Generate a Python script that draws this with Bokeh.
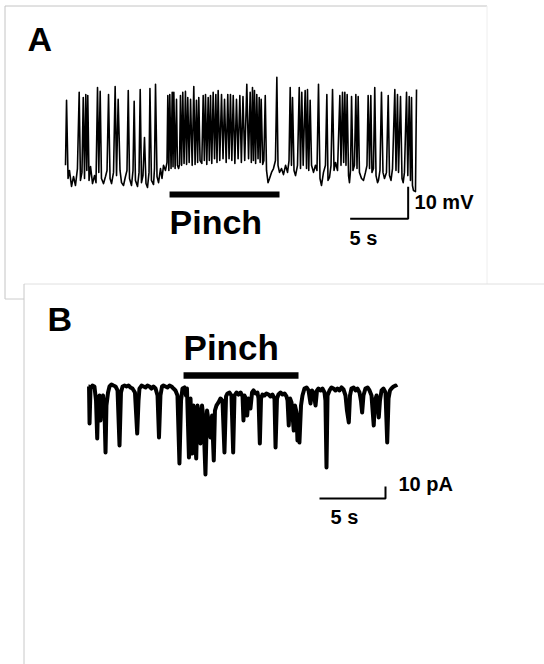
from bokeh.plotting import figure
from bokeh.models import Range1d, Label
from bokeh.embed import file_html
from bokeh.resources import INLINE

# ---------------- Panel A: membrane potential (s, mV relative to rest) ----------------
a_t = [0.0, 0.09, 0.22, 0.34, 0.52, 0.69, 0.86, 1.03, 1.18, 1.29, 1.42, 1.53, 1.64, 1.75, 1.84,
       1.92, 2.03, 2.16, 2.33, 2.50, 2.63, 2.76, 2.87, 2.99, 3.10, 3.28, 3.45, 3.58, 3.71, 3.84,
       3.97, 4.14, 4.28, 4.40, 4.54, 4.70, 4.83, 5.00, 5.17, 5.30, 5.41, 5.52, 5.69, 5.82, 5.92,
       6.03, 6.21, 6.34, 6.44, 6.55, 6.68, 6.81, 6.94, 7.07, 7.20, 7.28, 7.41, 7.59, 7.67, 7.76,
       7.89, 8.02, 8.19, 8.32, 8.45, 8.62, 8.75,
       8.82, 8.91, 8.99, 9.10, 9.20, 9.27, 9.34, 9.45, 9.57, 9.65, 9.75, 9.83, 9.91, 10.01, 10.11,
       10.22, 10.34, 10.44, 10.54, 10.66, 10.78, 10.92, 11.06, 11.17, 11.29, 11.39, 11.49, 11.60,
       11.75, 11.87, 11.97, 12.07, 12.18, 12.30, 12.40, 12.50, 12.61, 12.73, 12.85, 12.96, 13.06,
       13.16, 13.30, 13.45, 13.58, 13.71, 13.85, 13.99, 14.10, 14.22, 14.34, 14.46, 14.60, 14.74,
       14.88, 15.03, 15.16, 15.30, 15.45, 15.63, 15.78, 15.92, 16.02, 16.12, 16.20, 16.29, 16.39,
       16.49, 16.60, 16.70, 16.78, 16.87, 17.00, 17.10, 17.22,
       17.33, 17.46, 17.59, 17.76, 17.93, 18.10, 18.22, 18.32, 18.45, 18.62, 18.79, 18.97, 19.14,
       19.27, 19.37, 19.48, 19.57, 19.70, 19.83, 20.00, 20.15, 20.26, 20.37, 20.49, 20.66, 20.78,
       20.86, 20.97, 21.09, 21.21, 21.38, 21.55, 21.68, 21.81, 21.94, 22.07, 22.24, 22.41, 22.53,
       22.63, 22.76, 22.89, 23.02, 23.15, 23.28, 23.45, 23.65, 23.75, 23.88, 23.98, 24.08, 24.18,
       24.28, 24.40, 24.48, 24.57, 24.66, 24.78, 24.91, 25.03, 25.13, 25.23, 25.34, 25.52, 25.69,
       25.86, 25.99, 26.09, 26.21, 26.32, 26.42, 26.55, 26.66, 26.77, 26.90, 26.98, 27.11, 27.24,
       27.37, 27.50, 27.67, 27.82, 27.93, 28.06, 28.19, 28.39, 28.49, 28.62, 28.71, 28.88, 29.01,
       29.11, 29.22, 29.40, 29.51, 29.63, 29.74, 29.83, 29.91, 30.00, 30.17, 30.26]
a_v = [6.3, 26.6, 2.2, 4.7, -0.3, 2.8, 0.0, 5.3, 29.1, 1.6, 4.1, 27.5, 2.2, 28.4, 4.7,
       28.1, 1.6, 5.9, 0.6, 3.1, 0.9, 30.6, 4.1, 29.4, 2.2, 0.6, 2.8, 4.7, 28.4, 2.2,
       0.6, 4.1, 30.9, 3.1, 26.9, 4.7, 0.9, 0.0, 2.8, 4.7, 29.7, 2.2, 0.0, 4.7, 26.3,
       1.6, -0.3, 4.1, 30.0, 0.9, 3.1, 15.0, 0.6, -0.6, 4.1, 30.3, 1.6, 0.3, 5.3, 31.6,
       2.8, 0.9, 5.3, 2.2, 6.3, 4.7, 7.2,
       28.1, 4.7, 28.4, 5.3, 29.1, 5.9, 29.1, 5.3, 26.9, 6.3, 5.3, 6.6, 28.1, 6.3, 29.1,
       6.9, 29.4, 6.6, 27.5, 7.2, 26.9, 6.3, 30.9, 6.6, 26.6, 7.2, 27.5, 7.8,
       6.9, 28.1, 7.8, 28.4, 6.6, 27.5, 7.8, 28.1, 6.9, 29.1, 8.4, 28.4, 7.2,
       29.7, 7.8, 28.4, 8.4, 26.9, 7.2, 28.4, 8.4, 28.4, 7.8, 28.1, 6.9, 26.9,
       8.4, 28.1, 7.2, 27.8, 7.8, 31.6, 8.4, 29.1, 7.2, 30.6, 7.8, 29.7, 6.9,
       28.4, 8.4, 27.5, 7.2, 26.9, 6.6, 7.8, 28.1,
       4.7, 0.9, 2.2, 4.1, 5.3, 7.8, 33.8, 6.3, 4.1, 5.3, 3.4, 6.3, 4.1,
       7.8, 30.6, 6.3, 27.5, 4.7, 3.1, 6.3, 30.6, 5.3, 29.1, 6.3, 29.7, 5.3,
       30.0, 4.7, 26.6, 6.3, 4.1, 6.3, 4.7, 31.6, 2.2, 0.0, 4.1, 6.3, 28.4,
       1.6, 2.5, 6.3, 30.0, 4.7, 7.2, 4.7, 28.1, 6.3, 29.1, 7.2, 29.1, 6.3,
       28.4, 3.1, 0.9, 4.7, 27.8, 4.7, 6.3, 28.4, 5.3, 27.8, 4.1, 2.2, 1.6,
       4.1, 6.3, 28.1, 5.3, 28.1, 4.1, 5.3, 30.6, 3.1, 0.9, 1.6, 4.7, 29.1,
       4.1, 2.2, 4.1, 28.1, 3.1, 1.6, 5.3, 30.0, 4.7, 28.4, 4.1, 27.8, 2.2,
       0.9, 4.1, 29.1, 3.1, 27.8, 1.6, 27.5, 0.0, -1.6, -1.9, 30.0]
a_pinch = [8.97, 18.45]          # s
a_scale = [5, 10]                # 5 s, 10 mV

# ---------------- Panel B: membrane current (s, pA relative to holding) ----------------
b_t = [0.0, 0.04, 0.08, 0.15, 0.30, 0.45, 0.57, 0.66, 0.72, 0.83, 0.91, 0.98, 1.10, 1.21, 1.29,
       1.36, 1.48, 1.59, 1.74, 1.89, 2.05, 2.20, 2.35, 2.46, 2.58, 2.73, 2.88, 3.03, 3.18, 3.33,
       3.52, 3.69, 3.79, 3.86, 4.02, 4.17, 4.32, 4.47, 4.62, 4.77, 4.92, 5.08, 5.23, 5.34, 5.45,
       5.57, 5.68, 5.83, 5.98, 6.14, 6.29, 6.44, 6.59, 6.74, 6.89, 7.01, 7.12, 7.27, 7.39, 7.46,
       7.61, 7.73, 7.86, 7.95, 8.16, 8.26, 8.37, 8.48, 8.60, 8.71, 8.86, 8.98, 9.09, 9.24, 9.36,
       9.49, 9.58, 9.70, 9.85, 10.00, 10.15, 10.30, 10.42, 10.53, 10.68, 10.83, 10.96, 11.06, 11.21,
       11.36, 11.52, 11.67, 11.74, 11.82, 11.93, 12.02, 12.12, 12.27, 12.39, 12.50, 12.65, 12.80,
       12.88, 12.98, 13.07, 13.18, 13.33, 13.48, 13.64, 13.79, 13.94, 14.09, 14.17, 14.28, 14.39,
       14.55, 14.70, 14.85, 15.00, 15.08, 15.17, 15.27, 15.38, 15.55, 15.64, 15.76, 15.83, 15.91,
       15.98, 16.10, 16.21, 16.36, 16.52, 16.67, 16.82, 16.93, 17.05, 17.20, 17.31, 17.42, 17.58,
       17.73, 17.88, 17.95, 18.03, 18.11, 18.26, 18.41, 18.56, 18.71, 18.86, 19.02, 19.17, 19.32,
       19.47, 19.58, 19.72, 19.81, 19.92, 20.08, 20.23, 20.38, 20.53, 20.64, 20.73, 20.83, 20.98,
       21.14, 21.29, 21.44, 21.61, 21.70, 21.82, 21.99, 22.08, 22.20, 22.35, 22.50, 22.63, 22.73,
       22.84, 22.95, 23.11, 23.26, 23.33]
b_i = [0.0, 0.0, -30.8, -1.7, 0.8, 0.0, -11.7, -43.3, -15.8, -7.5, -28.3, -11.7, -7.5, -20.0, -55.0,
       -15.8, -5.0, 0.0, 1.7, 0.8, 0.0, -3.3, -49.2, -5.0, 0.0, 0.8, 0.0, 0.8, -0.8, -1.7,
       -5.0, -39.2, -11.7, -1.7, 0.8, 0.0, -0.8, 0.8, 0.0, -1.7, 0.0, -1.7, -7.5, -42.5, -7.5,
       0.0, 0.8, 0.0, -0.8, 0.8, 0.0, -1.7, -3.3, -7.5, -64.2, -11.7, -1.7, -0.8, -7.5, -1.7,
       -59.2, -10.0, -55.8, -15.8, -60.0, -15.8, -24.2, -47.5, -15.8, -26.7, -73.3, -20.0, -28.3, -42.5, -24.2,
       -61.7, -20.0, -15.8, -13.3, -10.0, -11.7, -55.0, -8.3, -5.8, -5.0, -7.5, -55.0, -7.5, -5.0,
       -6.7, -5.0, -8.3, -28.3, -7.5, -10.0, -24.2, -10.0, -18.3, -5.0, -3.3, -5.8, -5.0,
       -10.0, -47.5, -10.0, -6.7, -7.5, -5.8, -6.7, -8.3, -6.7, -10.0, -50.8, -10.0, -6.7,
       -5.0, -6.7, -5.8, -8.3, -11.7, -32.5, -10.0, -13.3, -36.7, -15.8, -21.7, -45.0, -24.2,
       -46.7, -15.8, -7.5, -1.7, -0.8, -3.3, -14.2, -3.3, -5.0, -15.8, -3.3, -1.7, -3.3,
       -1.7, -5.0, -11.7, -67.5, -7.5, -3.3, -0.8, -1.7, -3.3, -1.7, -3.3, -0.8, -2.5,
       -7.5, -20.0, -30.0, -7.5, -1.7, -0.8, -3.3, -1.7, -5.0, -11.7, -21.7, -7.5, -1.7,
       -0.8, -3.3, -7.5, -32.5, -11.7, -7.5, -25.8, -11.7, -3.3, -1.7, -5.0, -46.7, -10.0,
       -3.3, -1.7, 0.0, 0.8, -0.8]
b_pinch = [7.20, 15.91]          # s
b_scale = [5, 10]                # 5 s, 10 pA

panel_labels = ["A", "B"]
pinch_label = "Pinch"
a_scale_labels = ["10 mV", "5 s"]
b_scale_labels = ["10 pA", "5 s"]

# ---------------- layout (page pixel geometry) ----------------
W, H = 544, 664
PX0, PY0 = 0, 0                       # page offset of the canvas
# panel A mapping: t=0 at page x 65, 11.6 px/s ; 0 mV at page y 185, 3.2 px/mV
A_X0, A_SX, A_Y0, A_SY = 65.0, 11.6, 185.0, 3.2
# panel B mapping: t=0 at page x 88, 13.2 px/s ; 0 pA at page y 386, 1.2 px/pA
B_X0, B_SX, B_Y0, B_SY = 88.0, 13.2, 386.0, 1.2

def xr(x0, sx):
    return Range1d((PX0 - x0) / sx, (PX0 + W - x0) / sx)

def yr(y0, sy):
    return Range1d((y0 - (PY0 + H)) / sy, (y0 - PY0) / sy)

p = figure(width=W, height=H, x_range=xr(A_X0, A_SX), y_range=yr(A_Y0, A_SY),
           output_backend="svg", toolbar_location=None, min_border=0,
           background_fill_color="white", border_fill_color="white")
p.extra_x_ranges = {"bx": xr(B_X0, B_SX), "px": Range1d(PX0, PX0 + W)}
p.extra_y_ranges = {"by": yr(B_Y0, B_SY), "py": Range1d(PY0 + H, PY0)}
p.xaxis.visible = False
p.yaxis.visible = False
p.grid.visible = False
p.outline_line_color = None

# ---------------- panel frames (page coordinates) ----------------
frame_x0 = [4.5, 4.5, 486.5, 4.5, 23.5, 23.5]
frame_y0 = [5.5, 5.5, 5.5, 298.5, 283.5, 283.5]
frame_x1 = [486.5, 4.5, 486.5, 23.5, 544, 23.5]
frame_y1 = [5.5, 298.5, 283.5, 298.5, 283.5, 664]
frame_col = ["#c4c4c4", "#c4c4c4", "#eeeeee", "#cccccc", "#e0e0e0", "#c8c8c8"]
p.segment(x0=frame_x0, y0=frame_y0, x1=frame_x1, y1=frame_y1, line_color=frame_col,
          line_width=1, x_range_name="px", y_range_name="py")

FONT = "Liberation Sans"

def label(x, y, text, size, sy, xr_name=None, yr_name=None):
    """x, y: left end and baseline of the text; sy: pixels per y unit (negative for page coords)."""
    kw = {}
    if xr_name:
        kw["x_range_name"] = xr_name
    if yr_name:
        kw["y_range_name"] = yr_name
    p.add_layout(Label(x=x, y=y + 0.4 * size / sy, text=text, text_font=FONT,
                       text_font_style="bold", text_font_size=f"{size}px",
                       text_baseline="alphabetic", text_align="left",
                       text_color="black", **kw))

# panel letters
label(27, 52, panel_labels[0], 34, -1, "px", "py")
label(47, 332, panel_labels[1], 34, -1, "px", "py")

# ---------------- Panel A ----------------
p.line(a_t, a_v, line_color="black", line_width=1.6, line_join="round")
A_BAR_V = -2.8
p.line(a_pinch, [A_BAR_V, A_BAR_V], line_color="black", line_width=6)
label(a_pinch[0], -15.6, pinch_label, 34, A_SY)
A_SB_T, A_SB_V = 29.54, -10.4
p.line([A_SB_T - a_scale[0], A_SB_T, A_SB_T], [A_SB_V, A_SB_V, A_SB_V + a_scale[1]],
       line_color="black", line_width=2)
label(A_SB_T + 0.55, -7.8, a_scale_labels[0], 20, A_SY)
label(A_SB_T - a_scale[0] - 0.05, -18.75, a_scale_labels[1], 20, A_SY)

# ---------------- Panel B ----------------
p.line(b_t, b_i, line_color="black", line_width=4, line_join="round",
       x_range_name="bx", y_range_name="by")
B_BAR_I = 9.2
p.line(b_pinch, [B_BAR_I, B_BAR_I], line_color="black", line_width=6.5,
       x_range_name="bx", y_range_name="by")
label(b_pinch[0], 20.8, pinch_label, 35, B_SY, "bx", "by")
B_SB_T, B_SB_I = 22.5, -93.3
p.line([B_SB_T - b_scale[0], B_SB_T, B_SB_T], [B_SB_I, B_SB_I, B_SB_I + b_scale[1]],
       line_color="black", line_width=2, x_range_name="bx", y_range_name="by")
label(B_SB_T + 0.98, -87.5, b_scale_labels[0], 20, B_SY, "bx", "by")
label(B_SB_T - b_scale[0] + 0.83, -115.0, b_scale_labels[1], 20, B_SY, "bx", "by")

open("out.html", "w").write(file_html(p, INLINE))
